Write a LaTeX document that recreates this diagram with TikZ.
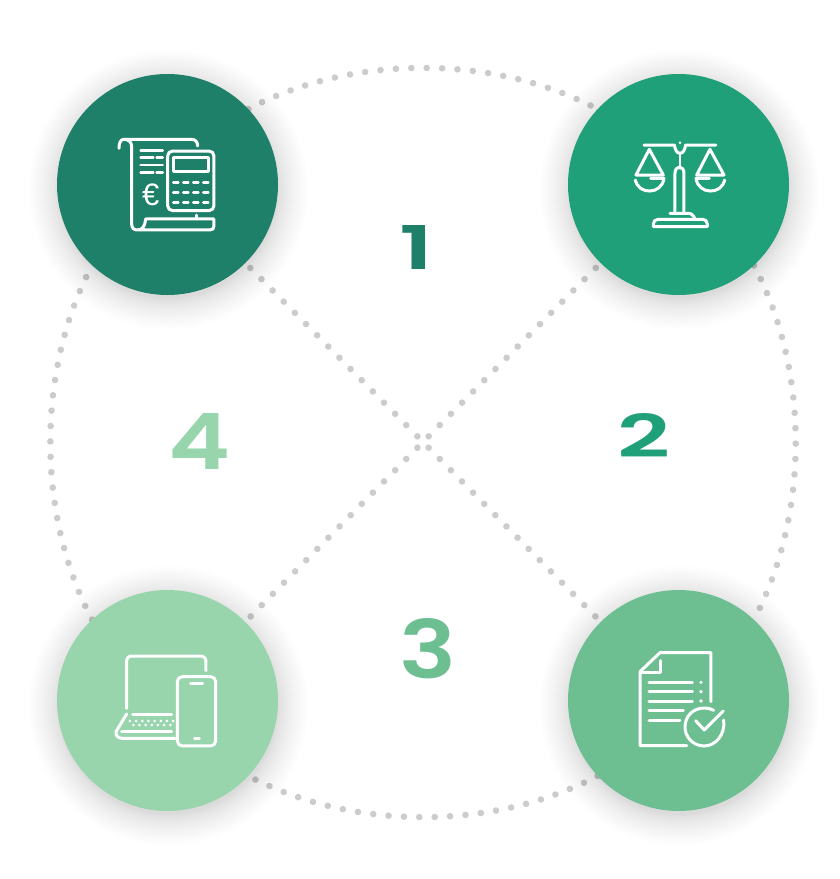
\documentclass[tikz,border=0pt]{standalone}
\usepackage{fontspec}
\usepackage{graphicx}
\setmainfont{Liberation Sans}
\newfontfamily\digitfont{Poppins SemiBold}
\usetikzlibrary{backgrounds}
\definecolor{cA}{RGB}{31,128,105}
\definecolor{cB}{RGB}{32,160,120}
\definecolor{cC}{RGB}{152,213,173}
\definecolor{cD}{RGB}{109,191,146}
\definecolor{dotc}{RGB}{204,204,204}
\tikzset{
  hub/.style={circle,minimum size=221pt,inner sep=0pt,outer sep=0pt,fill=#1},
  dotline/.style={dotc,line width=6.6pt,line cap=round,dash pattern=on 0.01pt off 15.4pt},
  armline/.style={dotc,line width=6.6pt,line cap=round,dash pattern=on 0.01pt off 15.8pt,dash phase=7.8pt},
  icon/.style={white,line width=3pt,line cap=round,line join=round},
  thinicon/.style={white,line width=2.7pt,line cap=round,line join=round},
  digit/.style={inner sep=0pt,outer sep=0pt,font=\digitfont},
}
\newcommand{\softshade}[2]{%
  \foreach \i in {1,...,36}{%
    \pgfmathsetmacro{\rr}{109+31*(\i/36)^1.5}%
    \fill[black,opacity=0.0042] (#1,#2) circle[radius=\rr];%
  }}
\begin{document}
\begin{tikzpicture}[x=1pt,y=-1pt]
\useasboundingbox (0,0) rectangle (840,879);
\softshade{168.5}{189.5}
\softshade{679.5}{189.5}
\softshade{168.5}{705.5}
\softshade{679.5}{705.5}
\node[hub=cA] (a) at (167.5,184.5) {};
\node[hub=cB] (b) at (678.5,184.5) {};
\node[hub=cC] (c) at (167.5,700.5) {};
\node[hub=cD] (d) at (678.5,700.5) {};
\coordinate (x) at (423,442);
\begin{scope}[on background layer]
\draw[dotline] (a.43) to[bend left=28,looseness=.86] (b.137);
\draw[dotline] (b.313) to[bend left=28,looseness=.86] (d.47);
\draw[dotline] (d.223) to[bend left=28,looseness=.86] (c.317);
\draw[dotline] (c.133) to[bend left=28,looseness=.86] (a.227);
\draw[armline] (x) -- (a);
\draw[armline] (x) -- (b);
\draw[armline] (x) -- (c);
\draw[armline] (x) -- (d);
\end{scope}
% digits
\node[digit,text=cA] (n1) at (417,247) {\resizebox{34pt}{44pt}{1}};
\node[digit,text=cB] (n2) at (644,435) {\resizebox{53pt}{44pt}{2}};
\node[digit,text=cD] (n3) at (428,649) {\resizebox{57pt}{60pt}{3}};
\node[digit,text=cC] (n4) at (200,441) {\resizebox{62pt}{56pt}{4}};
% icon 1: invoice and calculator
\begin{scope}[shift={(100,120)},x=.3333pt,y=-.3333pt]
\draw[icon] (57,85) .. controls (57,68) and (62,58) .. (72,58) -- (275,58) .. controls (286,58) and (293,66) .. (293,78);
\draw[icon] (72,58) .. controls (86,58) and (95,66) .. (95,80) -- (95,312) .. controls (95,324) and (102,330) .. (112,330) .. controls (128,330) and (135,318) .. (137,297) -- (342,297) -- (342,318) .. controls (342,326) and (338,330) .. (330,330) -- (112,330);
\draw[thinicon] (290,285) -- (290,297);
\draw[thinicon] (122,92) -- (188,92) (122,113) -- (160,113) (170,113) -- (188,113) (122,135) -- (188,135) (122,157) -- (160,157) (170,157) -- (188,157);
\draw[icon,rounded corners=5pt] (203,93) rectangle (342,272);
\draw[icon] (220,112) rectangle (325,155);
\foreach \yy in {187,218,248}{\foreach \xx in {220,250,280,310}{\draw[thinicon] (\xx,\yy) -- ++(15,0);}}
\node[text=white,font=\fontsize{31pt}{31pt}\selectfont,inner sep=0pt] (euro) at (152,223) {€};
\end{scope}
% icon 2: scales
\begin{scope}[shift={(620,130)},x=.3333pt,y=-.3333pt]
\draw[icon] (72,45) -- (163,45) .. controls (165,60) and (172,70) .. (180,70) .. controls (188,70) and (195,60) .. (197,45) -- (288,45);
\fill[white] (180,38) circle[radius=4];
\draw[thinicon] (180,70) -- (180,115);
\draw[icon] (165,250) -- (165,130) .. controls (165,105) and (192,105) .. (192,130) -- (192,250);
\draw[icon] (150,250) -- (205,250) .. controls (215,250) and (222,258) .. (225,268);
\draw[icon] (100,290) -- (262,290) -- (262,282) .. controls (262,274) and (256,268) .. (248,268) -- (114,268) .. controls (106,268) and (100,274) .. (100,282) -- cycle;
\draw[icon] (48,135) -- (88,58) -- (130,135) -- cycle;
\draw[icon] (46,150) .. controls (55,195) and (125,195) .. (132,145) -- (92,145);
\draw[icon] (230,135) -- (270,58) -- (312,135) -- cycle;
\draw[icon] (314,150) .. controls (305,195) and (235,195) .. (228,145) -- (268,145);
\end{scope}
% icon 3: laptop and phone
\begin{scope}[shift={(100,640)},x=.3333pt,y=-.3333pt]
\draw[icon] (80,205) -- (80,65) .. controls (80,55) and (85,48) .. (95,48) -- (300,48) .. controls (312,48) and (318,55) .. (318,65) -- (318,92);
\draw[icon,rounded corners=5pt] (232,110) rectangle (347,318);
\draw[icon] (272,131) -- (308,131) (284,295) -- (298,295);
\draw[icon] (80,222) -- (48,275) .. controls (46,288) and (55,295) .. (68,295) -- (225,295);
\draw[icon] (98,222) -- (215,222) (65,275) -- (215,275);
\foreach \xx in {90,108.5,...,222}{\fill[white] (\xx,243) circle[radius=4.5];}
\foreach \xx in {100,118.5,...,222}{\fill[white] (\xx,255) circle[radius=4.5];}
\end{scope}
% icon 4: checked document
\begin{scope}[shift={(625,640)},x=.3333pt,y=-.3333pt]
\draw[icon] (185,317) -- (45,317) -- (45,95) -- (105,38) -- (258,38) -- (258,185);
\draw[icon] (105,62) -- (105,97) -- (50,97);
\draw[icon] (72,127) -- (202,127) (72,155) -- (202,155) (72,183) -- (202,183) (72,211) -- (175,211) (72,241) -- (165,241);
\foreach \yy in {127,155,183}{\fill[white] (228,\yy) circle[radius=5.5];}
\draw[icon] (296,240) .. controls (302,285) and (270,318) .. (238,318) .. controls (205,318) and (180,292) .. (180,261) .. controls (180,228) and (205,204) .. (238,204) .. controls (248,204) and (258,206) .. (266,211);
\draw[icon] (212,242) -- (238,270) -- (295,213);
\end{scope}
\end{tikzpicture}
\end{document}
